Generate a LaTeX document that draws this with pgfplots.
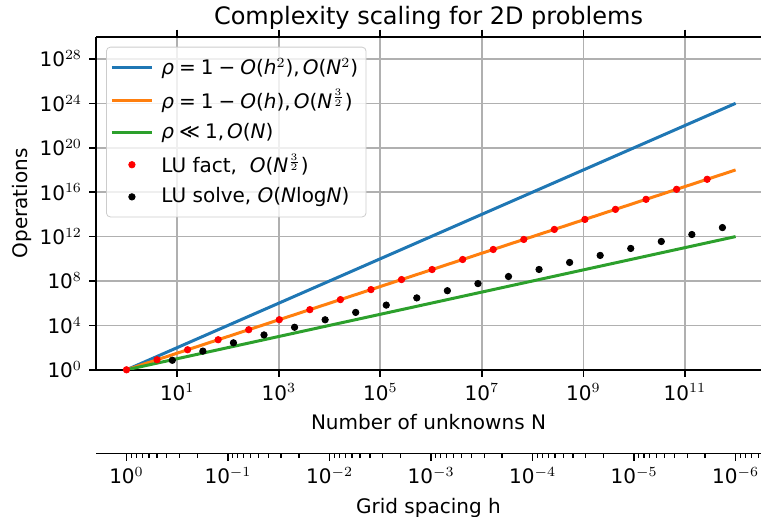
\documentclass[border=0pt]{standalone}
\usepackage{pgfplots}
\pgfplotsset{compat=1.18}
\usepackage{fontspec}
\setmainfont{DejaVu Sans}

\definecolor{mplblue}{HTML}{1F77B4}
\definecolor{mplorange}{HTML}{FF7F0E}
\definecolor{mplgreen}{HTML}{2CA02C}
\definecolor{gridgray}{HTML}{B0B0B0}

\newcommand\m[1]{\textit{#1}}
\newcommand\thr{$^{\frac{3}{2}}$}
\newcommand\op[1]{\hspace{0.25em}#1\hspace{0.25em}}

\begin{document}
\begin{tikzpicture}
\begin{axis}[
    name=main,
    scale only axis,
    width=332.4pt, height=166.5pt,
    xmode=log, ymode=log, log basis x=10, log basis y=10,
    xmin=0.251189, xmax=3.16228e12,
    ymin=1, ymax=1e30,
    axis y line*=left,
    y axis line style={-},
    axis line style={line width=0.8pt},
    xtick={1e1,1e3,1e5,1e7,1e9,1e11},
    xticklabels={10$^{1}$,10$^{3}$,10$^{5}$,10$^{7}$,10$^{9}$,10$^{11}$},
    ytick={1,1e4,1e8,1e12,1e16,1e20,1e24,1e28},
    yticklabels={10$^{0}$,10$^{4}$,10$^{8}$,10$^{12}$,10$^{16}$,10$^{20}$,10$^{24}$,10$^{28}$},
    tick align=outside,
    major tick length=3.5pt,
    major tick style={line width=0.8pt, black},
    grid=major,
    major grid style={line width=0.8pt, gridgray},
    xlabel={Number of unknowns N},
    ylabel={Operations},
    ylabel shift=-3pt,
    title={Complexity scaling for 2D problems},
    every axis title shift=0pt,
    title style={font=\fontsize{12}{14}\selectfont},
    legend cell align=left,
    legend image code/.code={\draw[mark repeat=2,mark phase=2,#1,fill opacity=1,draw opacity=1] plot coordinates {(0pt,0pt) (10pt,0pt) (20pt,0pt)};},
    legend style={at={(0,1)}, anchor=north west, xshift=5pt, yshift=-5pt,
        draw=black!20, fill=white, fill opacity=0.8, text opacity=1,
        rounded corners=2pt, inner xsep=2pt, inner ysep=3.5pt, row sep=2pt, column sep=2pt},
]
\addplot[mplblue, line width=1.5pt, no marks] coordinates {(1,1) (1e12,1e24)};
\addlegendentry{\m{ρ}\op{=}1\op{−}\m{O}(\m{h}$^{2}$),\hspace{0.15em}\m{O}(\m{N}$^{2}$)}
\addplot[mplorange, line width=1.5pt, no marks] coordinates {(1,1) (1e12,1e18)};
\addlegendentry{\m{ρ}\op{=}1\op{−}\m{O}(\m{h}),\hspace{0.15em}\m{O}(\m{N}\thr)}
\addplot[mplgreen, line width=1.5pt, no marks] coordinates {(1,1) (1e12,1e12)};
\addlegendentry{\m{ρ}\op{≪}1,\hspace{0.15em}\m{O}(\m{N})}
\addplot[only marks, mark=*, mark size=1.6pt, red, mark options={fill=red, draw=red}] coordinates {
(1,1) (4,8) (16,64) (64,512) (256,4096) (1024,32768) (4096,262144)
(16384,2097152) (65536,16777216) (262144,134217728) (1048576,1073741824)
(4194304,8.589934592e9) (16777216,6.8719476736e10) (67108864,5.49755813888e11)
(268435456,4.398046511104e12) (1073741824,3.5184372088832e13)
(4294967296,2.81474976710656e14) (17179869184,2.25179981368525e15)
(68719476736,1.8014398509482e16) (274877906944,1.44115188075856e17)
};
\addlegendentry{LU fact,\ \ \m{O}(\m{N}\thr)}
\addplot[only marks, mark=*, mark size=1.6pt, black] coordinates {
(8,7.2247) (32,48.165) (128,269.72) (512,1387.1) (2048,6781.6) (8192,32058.5)
(32768,147962) (131072,670762) (524288,2.99870e6) (2097152,1.32574e7)
(8388608,5.80806e7) (33554432,2.52522e8) (134217728,1.09090e9)
(536870912,4.68681e9) (2147483648,2.00402e10) (8589934592,8.53323e10)
(34359738368,3.62016e11) (137438953472,1.53081e12) (549755813888,6.45422e12)
};
\addlegendentry{LU solve, \m{O}(\m{N}log\m{N})}
\end{axis}

% secondary axis: grid spacing h = N^(-1/2), drawn on the N scale
\begin{axis}[
    at={(main.south west)}, anchor=south west, yshift=-41.85pt,
    scale only axis,
    width=332.4pt, height=1pt,
    xmode=log, log basis x=10,
    xmin=0.251189, xmax=3.16228e12,
    ymin=0, ymax=1,
    hide y axis,
    axis x line*=bottom,
    x axis line style={-, line width=0.8pt},
    tick align=outside,
    major tick length=3.5pt,
    minor tick length=2pt,
    major tick style={line width=0.8pt, black},
    minor tick style={line width=0.6pt, black},
    xtick={1,1e2,1e4,1e6,1e8,1e10,1e12},
    xticklabels={10$^{0}$,10$^{-1}$,10$^{-2}$,10$^{-3}$,10$^{-4}$,10$^{-5}$,10$^{-6}$},
    minor xtick={1.234568,1.5625,2.040816,2.777778,4,6.25,11.11111,25,
        123.4568,156.25,204.0816,277.7778,400,625,1111.111,2500,
        12345.68,15625,20408.16,27777.78,40000,62500,111111.1,250000,
        1.234568e6,1.5625e6,2.040816e6,2.777778e6,4e6,6.25e6,1.111111e7,2.5e7,
        1.234568e8,1.5625e8,2.040816e8,2.777778e8,4e8,6.25e8,1.111111e9,2.5e9,
        1.234568e10,1.5625e10,2.040816e10,2.777778e10,4e10,6.25e10,1.111111e11,2.5e11,
        1.234568e12,1.5625e12,2.040816e12,2.777778e12},
    xlabel={Grid spacing h},
]
\addplot[draw=none] coordinates {(1,0.5)};
\end{axis}
\pgfresetboundingbox
\path[use as bounding box] ([xshift=-48pt,yshift=-73.5pt]main.south west) rectangle ([yshift=18.35pt]main.north east);
\end{tikzpicture}
\end{document}
